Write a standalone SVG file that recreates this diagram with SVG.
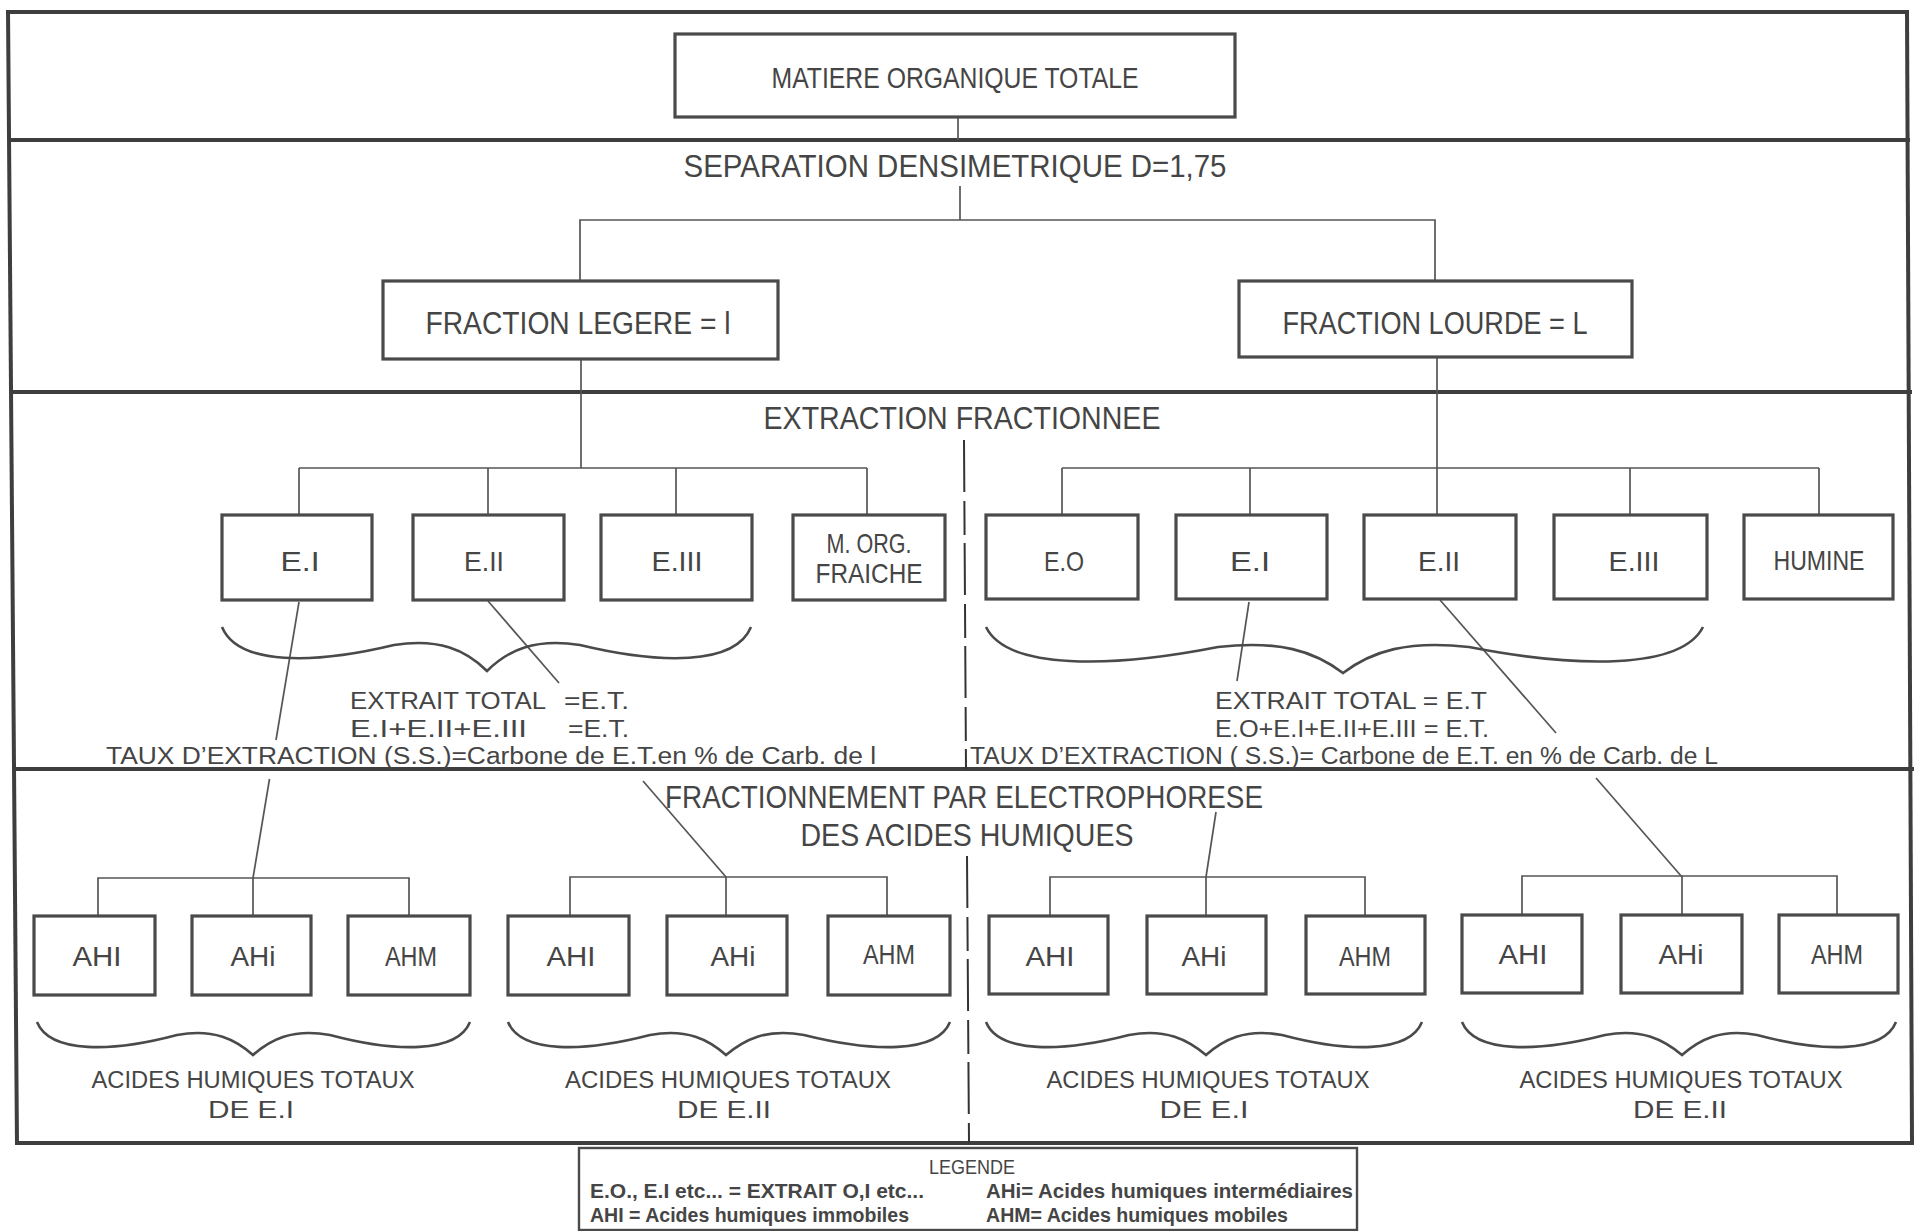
<svg xmlns="http://www.w3.org/2000/svg" width="1914" height="1231" viewBox="0 0 1914 1231">
<style>
.sec{stroke:#3e3e3e;stroke-width:4;fill:none}
.box{fill:none;stroke:#4a4a4a;stroke-width:3.2}
.ln{stroke:#555;stroke-width:1.7;fill:none}
.br{stroke:#4a4a4a;stroke-width:2.6;fill:none}
.dash{stroke:#333;stroke-width:2;fill:none;stroke-dasharray:52 9 34 8}
text{font-family:"Liberation Sans",Arial,sans-serif;fill:#454545}
.m{text-anchor:middle}
.h1{font-size:29px}
.h2{font-size:31px}
.bx{font-size:28px}
.ex{font-size:23px}
.lg{font-size:21px}
.lgb{font-size:20px;font-weight:bold}
</style>
<rect x="0" y="0" width="1914" height="1231" fill="#ffffff"/>
<g id="frame">
<line class="sec" x1="6" y1="12" x2="1909" y2="12"/>
<line class="sec" x1="8" y1="140" x2="1910" y2="140"/>
<line class="sec" x1="10" y1="392" x2="1912" y2="392"/>
<line class="sec" x1="13" y1="769" x2="1914" y2="769"/>
<line class="sec" x1="15" y1="1143" x2="1914" y2="1143"/>
<line class="sec" x1="8" y1="10" x2="17" y2="1145"/>
<line class="sec" x1="1907" y1="10" x2="1912" y2="1143"/>
</g>
<g id="connectors">
<line class="ln" x1="958" y1="117" x2="958" y2="140"/>
<line class="ln" x1="960" y1="186" x2="960" y2="220"/>
<polyline class="ln" points="580,281 580,220 1435,220 1435,281"/>
<line class="ln" x1="581" y1="359" x2="581" y2="468"/>
<line class="ln" x1="299" y1="468" x2="867" y2="468"/>
<line class="ln" x1="299" y1="468" x2="299" y2="515"/>
<line class="ln" x1="488" y1="468" x2="488" y2="515"/>
<line class="ln" x1="676" y1="468" x2="676" y2="515"/>
<line class="ln" x1="867" y1="468" x2="867" y2="515"/>
<line class="ln" x1="1437" y1="357" x2="1437" y2="515"/>
<line class="ln" x1="1062" y1="468" x2="1819" y2="468"/>
<line class="ln" x1="1062" y1="468" x2="1062" y2="515"/>
<line class="ln" x1="1250" y1="468" x2="1250" y2="515"/>
<line class="ln" x1="1630" y1="468" x2="1630" y2="515"/>
<line class="ln" x1="1819" y1="468" x2="1819" y2="515"/>
<path class="dash" d="M964,440 L966,769"/>
<path class="dash" d="M967,856 L969,1143"/>
<line class="ln" x1="299" y1="602" x2="276" y2="740"/>
<line class="ln" x1="269.5" y1="779" x2="253" y2="878"/>
<line class="ln" x1="488" y1="601" x2="559" y2="683"/>
<line class="ln" x1="643" y1="781" x2="726" y2="877"/>
<line class="ln" x1="1249" y1="602" x2="1237" y2="681"/>
<line class="ln" x1="1216" y1="812" x2="1206" y2="877"/>
<line class="ln" x1="1440" y1="600" x2="1556" y2="733"/>
<line class="ln" x1="1596" y1="778" x2="1682" y2="877"/>
<polyline class="ln" points="98,916 98,878 409,878 409,916"/>
<line class="ln" x1="253" y1="878" x2="253" y2="916"/>
<polyline class="ln" points="570,916 570,877 887,877 887,916"/>
<line class="ln" x1="726" y1="877" x2="726" y2="916"/>
<polyline class="ln" points="1050,916 1050,877 1365,877 1365,916"/>
<line class="ln" x1="1206" y1="877" x2="1206" y2="916"/>
<polyline class="ln" points="1522,915 1522,876 1837,876 1837,915"/>
<line class="ln" x1="1682" y1="876" x2="1682" y2="915"/>
</g>
<g id="braces">
<path class="br" d="M222,627 C238,666 315,664 394,645 C439,638 466,650 487,671 C508,650 535,638 580,645 C659,664 735,666 751,627"/>
<path class="br" d="M986,627 C1007,670 1111,668 1218,647 C1279,640 1314,651 1343,673 C1372,651 1408,640 1469,647 C1577,668 1681,670 1703,627"/>
<path class="br" d="M37,1022 C50,1054 113,1052 177,1035 C214,1028 236,1040 253,1055 C270,1040 292,1028 330,1035 C394,1052 457,1054 470,1022"/>
<path class="br" d="M508,1022 C521,1054 584,1052 650,1035 C687,1028 709,1040 726,1055 C744,1040 766,1028 804,1035 C872,1052 937,1054 950,1022"/>
<path class="br" d="M986,1022 C999,1054 1063,1052 1129,1035 C1166,1028 1188,1040 1206,1055 C1223,1040 1245,1028 1282,1035 C1346,1052 1409,1054 1422,1022"/>
<path class="br" d="M1462,1022 C1475,1054 1539,1052 1605,1035 C1642,1028 1664,1040 1682,1055 C1699,1040 1721,1028 1757,1035 C1821,1052 1883,1054 1896,1022"/>
</g>
<g id="n-mot"><rect class="box" x="675" y="34" width="560" height="83"/><text class="h1 m" x="955" y="88" textLength="367" lengthAdjust="spacingAndGlyphs">MATIERE ORGANIQUE TOTALE</text></g>
<g id="t-sep"><text class="h2 m" x="955" y="177" textLength="543" lengthAdjust="spacingAndGlyphs">SEPARATION  DENSIMETRIQUE  D=1,75</text></g>
<g id="n-legere"><rect class="box" x="383" y="281" width="395" height="78"/><text class="h2 m" x="578" y="334" textLength="305" lengthAdjust="spacingAndGlyphs">FRACTION  LEGERE = l</text></g>
<g id="n-lourde"><rect class="box" x="1239" y="281" width="393" height="76"/><text class="h2 m" x="1435" y="334" textLength="305" lengthAdjust="spacingAndGlyphs">FRACTION  LOURDE = L</text></g>
<g id="t-ext"><text class="h2 m" x="962" y="429" textLength="397" lengthAdjust="spacingAndGlyphs">EXTRACTION  FRACTIONNEE</text></g>
<g id="n-l-e1"><rect class="box" x="222" y="515" width="150" height="85"/><text class="bx m" x="300" y="571" textLength="39" lengthAdjust="spacingAndGlyphs">E.I</text></g>
<g id="n-l-e2"><rect class="box" x="413" y="515" width="151" height="85"/><text class="bx m" x="484" y="571" textLength="40" lengthAdjust="spacingAndGlyphs">E.II</text></g>
<g id="n-l-e3"><rect class="box" x="601" y="515" width="151" height="85"/><text class="bx m" x="677" y="571" textLength="51" lengthAdjust="spacingAndGlyphs">E.III</text></g>
<g id="n-morg"><rect class="box" x="793" y="515" width="152" height="85"/><text class="bx m" x="869" y="553" textLength="85" lengthAdjust="spacingAndGlyphs">M. ORG.</text><text class="bx m" x="869" y="583" textLength="107" lengthAdjust="spacingAndGlyphs">FRAICHE</text></g>
<g id="n-r-e0"><rect class="box" x="986" y="515" width="152" height="84"/><text class="bx m" x="1064" y="571" textLength="40" lengthAdjust="spacingAndGlyphs">E.O</text></g>
<g id="n-r-e1"><rect class="box" x="1176" y="515" width="151" height="84"/><text class="bx m" x="1250" y="571" textLength="40" lengthAdjust="spacingAndGlyphs">E.I</text></g>
<g id="n-r-e2"><rect class="box" x="1364" y="515" width="152" height="84"/><text class="bx m" x="1439" y="571" textLength="42" lengthAdjust="spacingAndGlyphs">E.II</text></g>
<g id="n-r-e3"><rect class="box" x="1554" y="515" width="153" height="84"/><text class="bx m" x="1634" y="571" textLength="51" lengthAdjust="spacingAndGlyphs">E.III</text></g>
<g id="n-humine"><rect class="box" x="1744" y="515" width="149" height="84"/><text class="bx m" x="1819" y="570" textLength="91" lengthAdjust="spacingAndGlyphs">HUMINE</text></g>
<g id="t-left-ext">
<text class="ex" x="350" y="709" textLength="196" lengthAdjust="spacingAndGlyphs">EXTRAIT  TOTAL</text>
<text class="ex" x="564" y="709" textLength="65" lengthAdjust="spacingAndGlyphs">=E.T.</text>
<text class="ex" x="350" y="737" textLength="177" lengthAdjust="spacingAndGlyphs">E.I+E.II+E.III</text>
<text class="ex" x="568" y="737" textLength="61" lengthAdjust="spacingAndGlyphs">=E.T.</text>
<text class="ex" x="106" y="764" textLength="770" lengthAdjust="spacingAndGlyphs">TAUX  D’EXTRACTION (S.S.)=Carbone de E.T.en % de Carb. de l</text>
</g>
<g id="t-right-ext">
<text class="ex" x="1215" y="709" textLength="272" lengthAdjust="spacingAndGlyphs">EXTRAIT  TOTAL = E.T</text>
<text class="ex" x="1215" y="737" textLength="274" lengthAdjust="spacingAndGlyphs">E.O+E.I+E.II+E.III = E.T.</text>
<text class="ex" x="970" y="764" textLength="748" lengthAdjust="spacingAndGlyphs">TAUX  D’EXTRACTION ( S.S.)= Carbone de E.T. en % de Carb. de L</text>
</g>
<g id="t-elec">
<text class="h2 m" x="964" y="808" textLength="598" lengthAdjust="spacingAndGlyphs">FRACTIONNEMENT  PAR  ELECTROPHORESE</text>
<text class="h2 m" x="967" y="846" textLength="333" lengthAdjust="spacingAndGlyphs">DES  ACIDES  HUMIQUES</text>
</g>
<g id="n-g1-ahI"><rect class="box" x="34" y="916" width="121" height="79"/><text class="bx m" x="97" y="966" textLength="49" lengthAdjust="spacingAndGlyphs">AHI</text></g>
<g id="n-g1-ahi"><rect class="box" x="192" y="916" width="119" height="79"/><text class="bx m" x="253" y="966" textLength="45" lengthAdjust="spacingAndGlyphs">AHi</text></g>
<g id="n-g1-ahm"><rect class="box" x="348" y="916" width="122" height="79"/><text class="bx m" x="411" y="966" textLength="52" lengthAdjust="spacingAndGlyphs">AHM</text></g>
<g id="n-g2-ahI"><rect class="box" x="508" y="916" width="121" height="79"/><text class="bx m" x="571" y="966" textLength="49" lengthAdjust="spacingAndGlyphs">AHI</text></g>
<g id="n-g2-ahi"><rect class="box" x="667" y="916" width="120" height="79"/><text class="bx m" x="733" y="966" textLength="45" lengthAdjust="spacingAndGlyphs">AHi</text></g>
<g id="n-g2-ahm"><rect class="box" x="828" y="916" width="122" height="79"/><text class="bx m" x="889" y="964" textLength="52" lengthAdjust="spacingAndGlyphs">AHM</text></g>
<g id="n-g3-ahI"><rect class="box" x="989" y="916" width="119" height="78"/><text class="bx m" x="1050" y="966" textLength="49" lengthAdjust="spacingAndGlyphs">AHI</text></g>
<g id="n-g3-ahi"><rect class="box" x="1147" y="916" width="119" height="78"/><text class="bx m" x="1204" y="966" textLength="45" lengthAdjust="spacingAndGlyphs">AHi</text></g>
<g id="n-g3-ahm"><rect class="box" x="1306" y="916" width="119" height="78"/><text class="bx m" x="1365" y="966" textLength="52" lengthAdjust="spacingAndGlyphs">AHM</text></g>
<g id="n-g4-ahI"><rect class="box" x="1462" y="915" width="120" height="78"/><text class="bx m" x="1523" y="964" textLength="49" lengthAdjust="spacingAndGlyphs">AHI</text></g>
<g id="n-g4-ahi"><rect class="box" x="1621" y="915" width="121" height="78"/><text class="bx m" x="1681" y="964" textLength="45" lengthAdjust="spacingAndGlyphs">AHi</text></g>
<g id="n-g4-ahm"><rect class="box" x="1779" y="915" width="119" height="78"/><text class="bx m" x="1837" y="964" textLength="52" lengthAdjust="spacingAndGlyphs">AHM</text></g>
<g id="t-totaux">
<text class="ex m" x="253" y="1088" textLength="323" lengthAdjust="spacingAndGlyphs">ACIDES  HUMIQUES  TOTAUX</text>
<text class="ex m" x="251" y="1118" textLength="86" lengthAdjust="spacingAndGlyphs">DE  E.I</text>
<text class="ex m" x="728" y="1088" textLength="326" lengthAdjust="spacingAndGlyphs">ACIDES  HUMIQUES  TOTAUX</text>
<text class="ex m" x="724" y="1118" textLength="94" lengthAdjust="spacingAndGlyphs">DE  E.II</text>
<text class="ex m" x="1208" y="1088" textLength="323" lengthAdjust="spacingAndGlyphs">ACIDES  HUMIQUES  TOTAUX</text>
<text class="ex m" x="1204" y="1118" textLength="89" lengthAdjust="spacingAndGlyphs">DE  E.I</text>
<text class="ex m" x="1681" y="1088" textLength="323" lengthAdjust="spacingAndGlyphs">ACIDES  HUMIQUES  TOTAUX</text>
<text class="ex m" x="1680" y="1118" textLength="94" lengthAdjust="spacingAndGlyphs">DE  E.II</text>
</g>
<g id="legend">
<rect x="579" y="1148" width="778" height="82" fill="none" stroke="#4a4a4a" stroke-width="2.4"/>
<text class="lg m" x="972" y="1174" textLength="86" lengthAdjust="spacingAndGlyphs">LEGENDE</text>
<text class="lgb" x="590" y="1198" textLength="334" lengthAdjust="spacingAndGlyphs">E.O., E.I etc... = EXTRAIT O,I etc...</text>
<text class="lgb" x="986" y="1198" textLength="367" lengthAdjust="spacingAndGlyphs">AHi= Acides humiques intermédiaires</text>
<text class="lgb" x="590" y="1222" textLength="319" lengthAdjust="spacingAndGlyphs">AHI = Acides humiques immobiles</text>
<text class="lgb" x="986" y="1222" textLength="302" lengthAdjust="spacingAndGlyphs">AHM= Acides humiques mobiles</text>
</g>
</svg>
